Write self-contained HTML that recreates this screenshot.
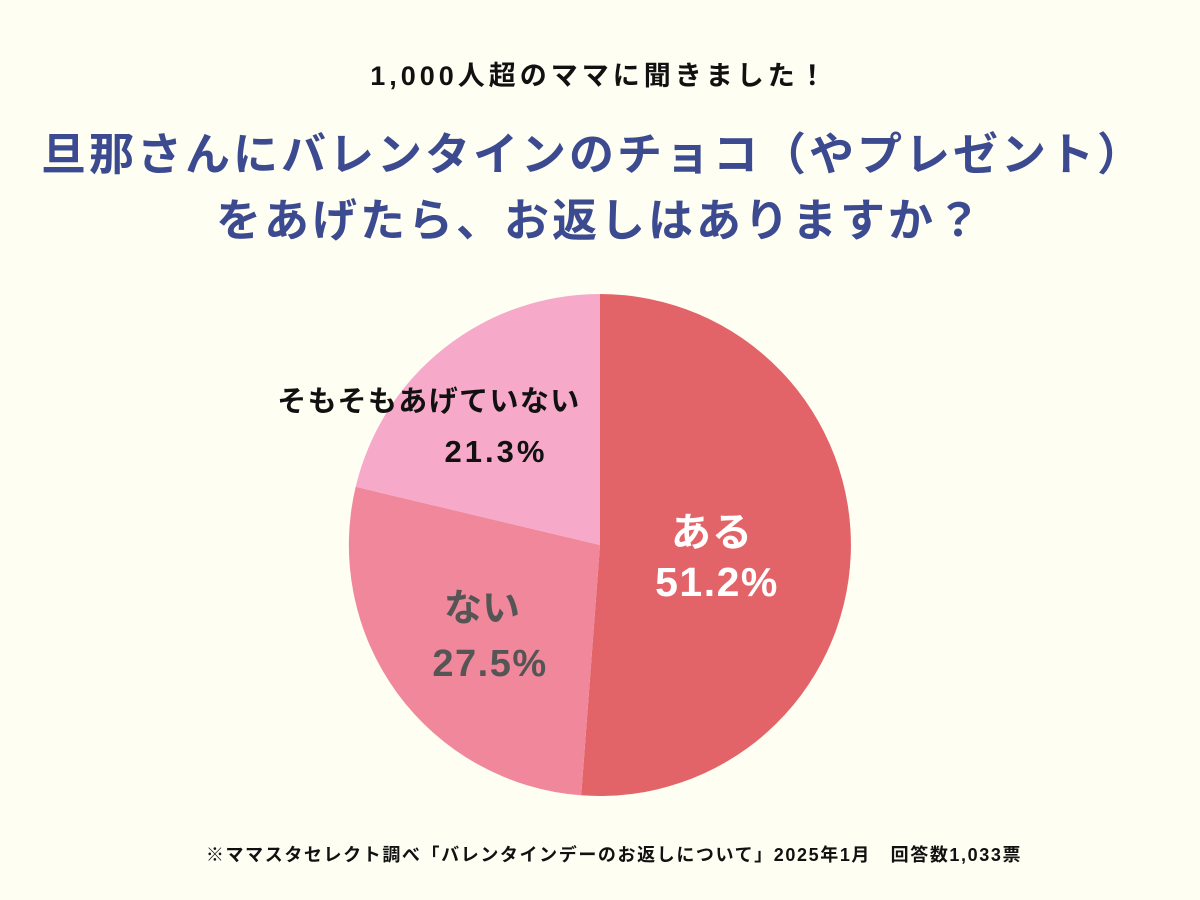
<!DOCTYPE html>
<html><head><meta charset="utf-8"><style>
html,body{margin:0;padding:0;}
body{width:1200px;height:900px;background:#fefef3;position:relative;overflow:hidden;font-family:"Liberation Sans","Noto Sans CJK JP",sans-serif;}
.t{position:absolute;left:0;width:1200px;text-align:center;font-weight:bold;}
</style></head><body>
<div class="t" style="top:54px;font-size:27px;letter-spacing:4px;color:#111;">1,000人超のママに聞きました！</div>
<div class="t" style="top:122px;font-size:45px;letter-spacing:3px;color:#3c4a90;line-height:66px;"><span style="margin-left:-14px">旦那さんにバレンタインのチョコ（やプレゼント）</span><br>をあげたら、お返しはありますか？</div>
<svg width="1200" height="900" style="position:absolute;left:0;top:0">
<path d="M600,545 L600,294 A251,251 0 1 1 581.2,795.3 Z" fill="#e36468"/>
<path d="M600,545 L581.2,795.3 A251,251 0 0 1 355.7,486.8 Z" fill="#f0879b"/>
<path d="M600,545 L355.7,486.8 A251,251 0 0 1 600,294 Z" fill="#f6a9c8"/>
<g font-family="Liberation Sans, Noto Sans CJK JP, sans-serif" font-weight="bold" text-anchor="middle">
<text x="712" y="546" font-size="40" fill="#fff" letter-spacing="1">ある</text>
<text x="717" y="596" font-size="41" fill="#fff" letter-spacing="1.5">51.2%</text>
<text x="482" y="621" font-size="38" fill="#555">ない</text>
<text x="490" y="676" font-size="38" fill="#555" letter-spacing="1.5">27.5%</text>
<text x="429" y="411" font-size="29" fill="#111" letter-spacing="1.4">そもそもあげていない</text>
<text x="496" y="462" font-size="31" fill="#111" letter-spacing="3">21.3%</text>
</g>
</svg>
<div class="t" style="top:841px;left:14px;font-size:18px;letter-spacing:1.6px;color:#111;">※ママスタセレクト調べ「バレンタインデーのお返しについて」2025年1月　回答数1,033票</div>
</body></html>
